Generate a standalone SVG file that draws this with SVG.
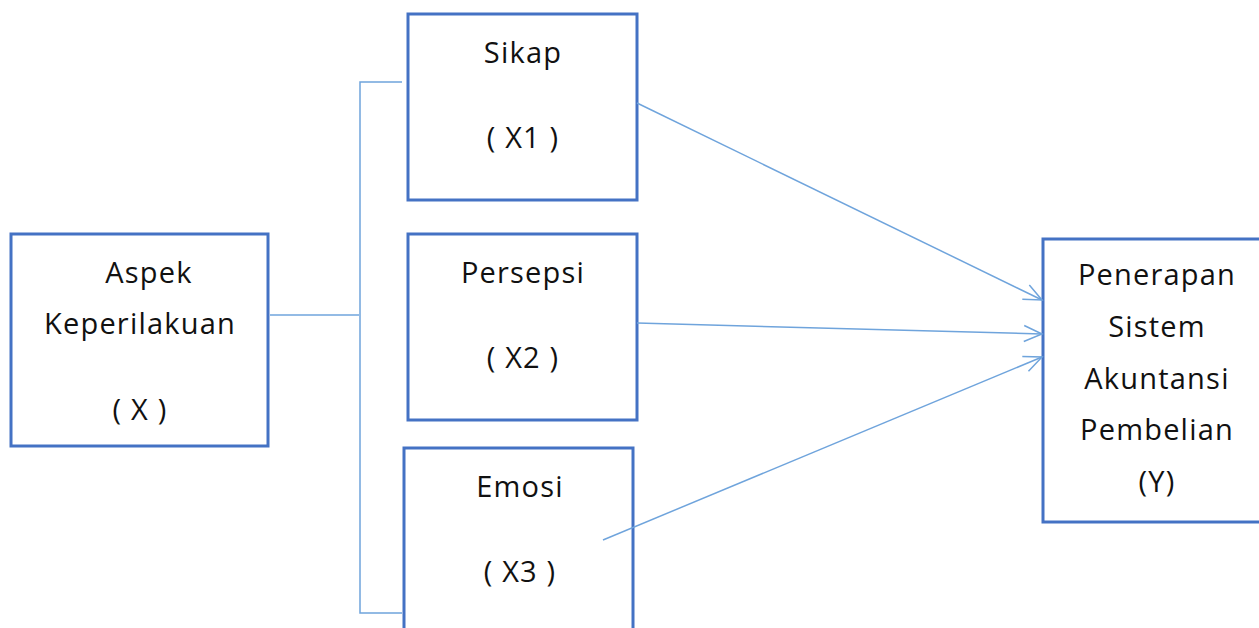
<svg xmlns="http://www.w3.org/2000/svg" width="1259" height="628" viewBox="0 0 1259 628">
<style>
.box{fill:#fff;stroke:#4472C4;stroke-width:3}
.t{font-family:"Open Sans","Noto Sans",sans-serif;font-size:29px;letter-spacing:1.2px;fill:#111;text-anchor:middle}
.c{fill:none;stroke:#6FA4DC;stroke-width:1.5}
</style>
<defs>
<marker id="ah" markerWidth="24" markerHeight="20" refX="20" refY="10" orient="auto" markerUnits="userSpaceOnUse">
<path d="M2,2 L20,10 L2,18" fill="none" stroke="#6FA4DC" stroke-width="1.5"/>
</marker>
</defs>
<g id="node-x">
<rect class="box" x="11" y="234" width="257" height="212"/>
<text class="t" x="149" y="283">Aspek</text>
<text class="t" x="140" y="334">Keperilakuan</text>
<text class="t" x="140" y="420">( X )</text>
</g>
<g id="node-x1">
<rect class="box" x="408" y="14" width="229" height="186"/>
<text class="t" x="523" y="63">Sikap</text>
<text class="t" x="523" y="148">( X1 )</text>
</g>
<g id="node-x2">
<rect class="box" x="408" y="234" width="229" height="186"/>
<text class="t" x="523" y="283">Persepsi</text>
<text class="t" x="523" y="368">( X2 )</text>
</g>
<g id="node-x3">
<rect class="box" x="404" y="448" width="229" height="200"/>
<text class="t" x="520" y="497">Emosi</text>
<text class="t" x="520" y="582">( X3 )</text>
</g>
<g id="node-y">
<rect class="box" x="1043" y="239" width="230" height="283"/>
<text class="t" x="1157" y="285">Penerapan</text>
<text class="t" x="1157" y="337">Sistem</text>
<text class="t" x="1157" y="389">Akuntansi</text>
<text class="t" x="1157" y="440">Pembelian</text>
<text class="t" x="1157" y="492">(Y)</text>
</g>
<g id="connectors">
<path class="c" d="M270,315 H359"/>
<path class="c" d="M402,82 H360 V613 H402"/>
<path class="c" d="M637,103 L1042,300" marker-end="url(#ah)"/>
<path class="c" d="M637,323 L1042,334" marker-end="url(#ah)"/>
<path class="c" d="M603,540 L1042,357" marker-end="url(#ah)"/>
</g>
</svg>
